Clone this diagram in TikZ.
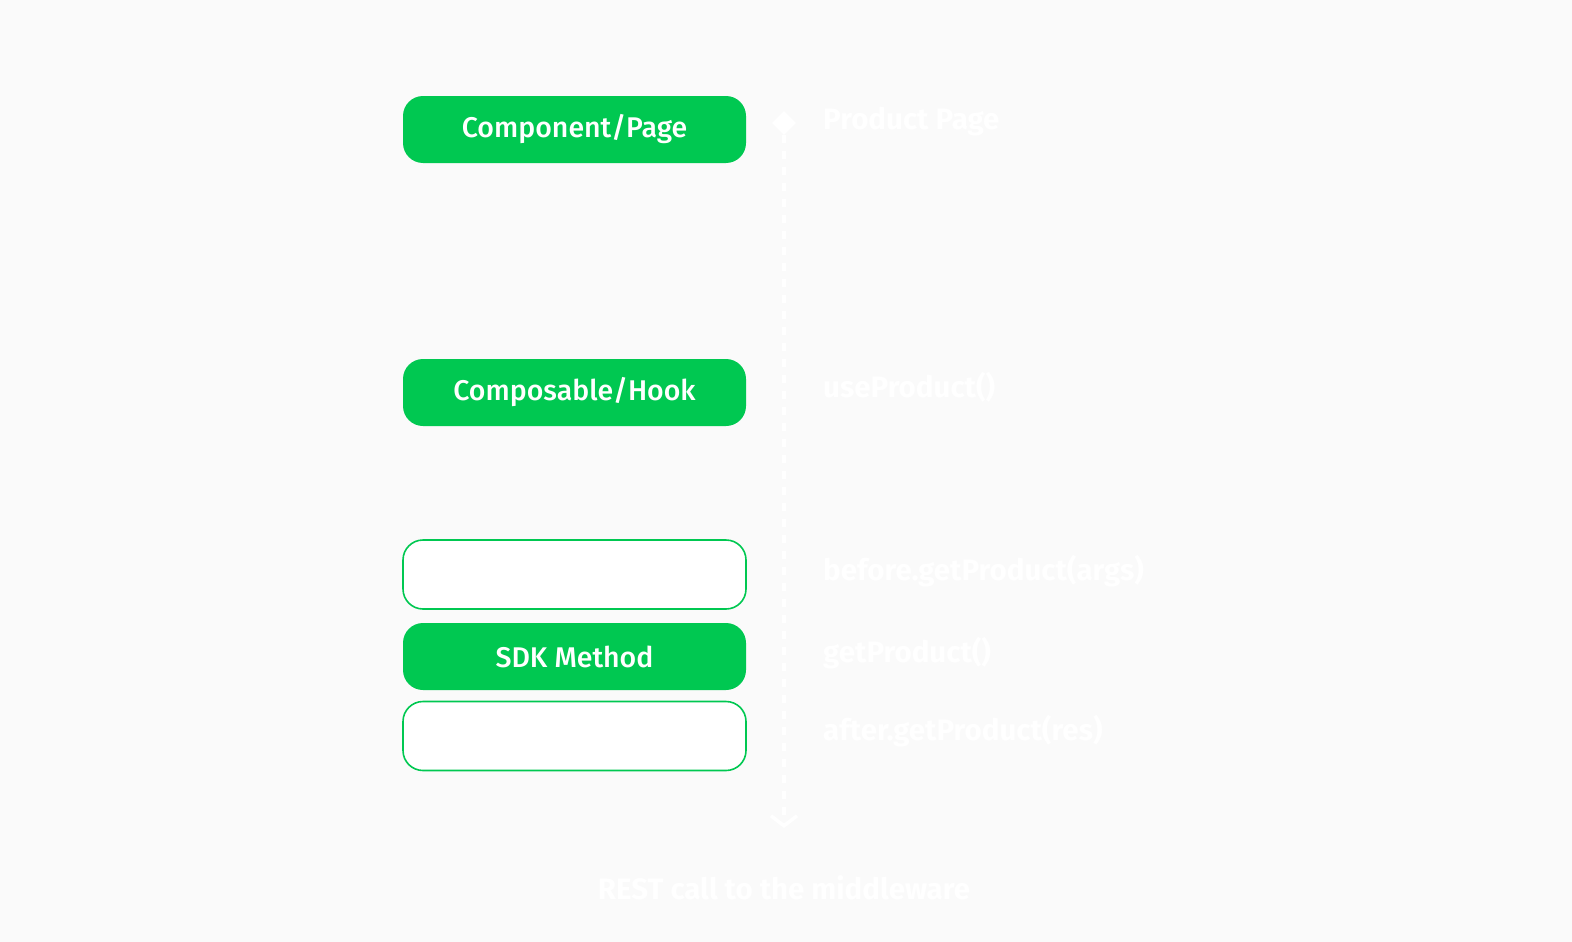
\documentclass[tikz,border=0pt]{standalone}
\usepackage{fontspec}
\setmainfont{Fira Sans}
\newfontfamily\medfont{Fira Sans Medium}
\usetikzlibrary{positioning,arrows.meta,shapes.geometric}
\definecolor{flowGreen}{HTML}{00C851}
\definecolor{flowBack}{HTML}{FAFAFA}

\begin{document}
\begin{tikzpicture}[x=1pt,y=-1pt]
    \pgfmathsetmacro{\w}{343}
    \tikzset{
        stage/.style={rounded corners=20pt,minimum width=\w pt,minimum height=67pt,
            font=\medfont\fontsize{28.5}{32}\selectfont,text=white,inner sep=0pt},
        solidstage/.style={stage,fill=flowGreen},
        hollowstage/.style={stage,draw=flowGreen,line width=1.6pt,fill=white,minimum height=69pt},
        call/.style={anchor=west,text=white,font=\fontsize{29.5}{34}\selectfont\bfseries,inner sep=0pt},
        flow/.style={white,line width=3.5pt,dash pattern=on 8pt off 8pt}
    }
    \fill[flowBack] (0,0) rectangle (1572,942);
    \useasboundingbox (0,0) rectangle (1572,942);

    % left column
    \node[solidstage] (page) at (574.5,129.5) {Component/Page};
    \node[solidstage] (hook) at (574.5,392.5) {Composable/Hook};
    \node[hollowstage] (before) at (574.5,574.5) {“before” interceptor};
    \node[solidstage] (sdk) at (574.5,656.5) {SDK Method};
    \node[hollowstage] (after) at (574.5,736) {“after” interceptor};

    % timeline
    \node[diamond,fill=white,minimum size=24pt,inner sep=0pt] (start) at (784,123) {};
    \coordinate (end) at (784,828);
    \draw[flow,-{Straight Barb[length=10pt,width=26pt,line width=3.5pt]}] (start) -- (end);

    % calls
    \foreach \y/\txt/\nm in {122/Product Page/cpage,387/useProduct()/chook,
        571/before.getProduct(args)/cbefore,653/getProduct()/csdk,731/after.getProduct(res)/cafter}{
        \node[call] (\nm) at (823,\y) {\txt};
    }
    \node[text=white,font=\fontsize{29.5}{34}\selectfont\bfseries,below=44pt of end] (rest) {REST call to the middleware};
\end{tikzpicture}
\end{document}
